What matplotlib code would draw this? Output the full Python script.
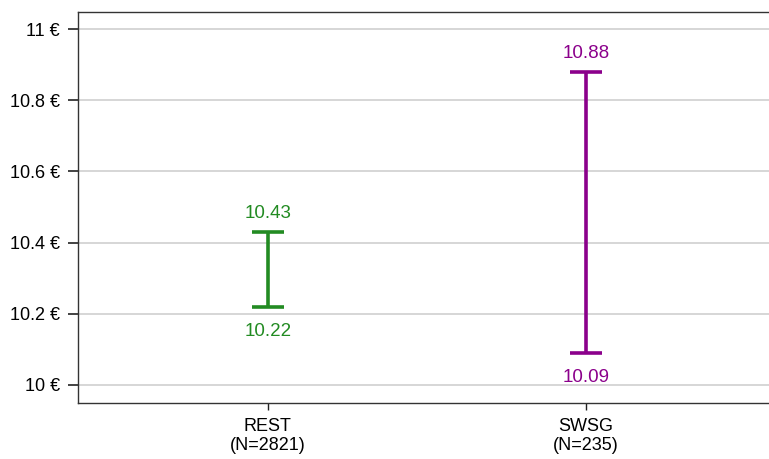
import matplotlib.pyplot as plt

categories = ["REST\n(N=2821)", "SWSG\n(N=235)"]
lower = [10.22, 10.09]
upper = [10.43, 10.88]
colors = ["#228B22", "#8B008B"]
yticks = [10, 10.2, 10.4, 10.6, 10.8, 11]
ytick_labels = ["10 €", "10.2 €", "10.4 €", "10.6 €", "10.8 €", "11 €"]

plt.rcParams['font.family'] = ['Liberation Sans', 'DejaVu Sans']

fig = plt.figure(figsize=(7.69, 4.59), dpi=100)
ax = fig.add_axes([78 / 769, 1 - 403 / 459, 1 - 78 / 769, (403 - 12) / 459])

for i in range(len(categories)):
    mid = (lower[i] + upper[i]) / 2
    half = (upper[i] - lower[i]) / 2
    ax.errorbar(i, mid, yerr=half, fmt='none', ecolor=colors[i],
                elinewidth=2.6, capsize=11.5, capthick=2.6, zorder=3)
    ax.annotate(f"{upper[i]:.2f}", (i, upper[i]), xytext=(0, 7),
                textcoords='offset points', ha='center', va='bottom',
                color=colors[i], fontsize=13.5)
    ax.annotate(f"{lower[i]:.2f}", (i, lower[i]), xytext=(0, -11.5),
                textcoords='offset points', ha='center', va='top',
                color=colors[i], fontsize=13.5)

ax.set_xlim(-0.597, 1.575)
ax.set_ylim(9.949, 11.048)
ax.set_xticks(range(len(categories)))
ax.set_xticklabels(categories, fontsize=13, linespacing=1.15)
ax.set_yticks(yticks)
ax.set_yticklabels(ytick_labels, fontsize=13)
ax.yaxis.grid(True, color="#d0d0d0", linewidth=1.2)
ax.set_axisbelow(True)
ax.tick_params(axis='y', length=7, width=1.2, color="#222222", pad=6)
ax.tick_params(axis='x', length=5, width=1, color="#222222", pad=6)
for s in ax.spines.values():
    s.set_color("#333333")
    s.set_linewidth(1)
ax.spines['right'].set_visible(False)

fig.savefig("out.png", dpi=100)
